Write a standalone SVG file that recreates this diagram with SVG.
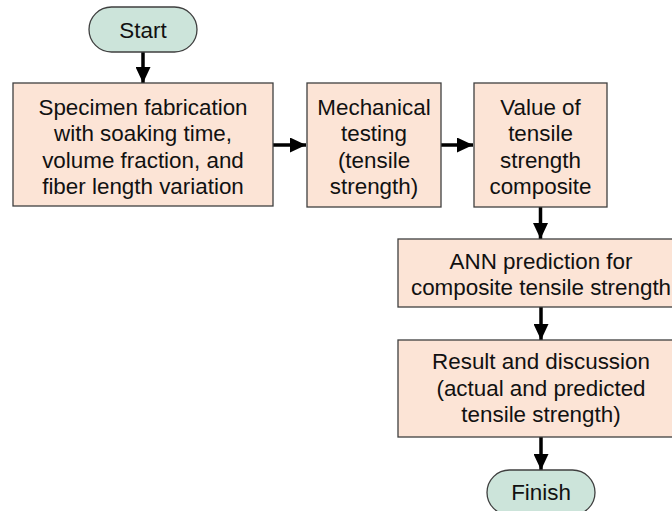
<svg xmlns="http://www.w3.org/2000/svg" width="672" height="511" viewBox="0 0 672 511">
<style>
.box{fill:#FCE4D6;stroke:#3f3f3f;stroke-width:1.3}
.term{fill:#CCE4DA;stroke:#3f3f3f;stroke-width:1.3}
.t{font-family:"Liberation Sans",Arial,sans-serif;font-size:22.4px;fill:#111;text-anchor:middle}
.c{stroke:#000;stroke-width:3.5;fill:none;marker-end:url(#ah)}
</style>
<defs>
<marker id="ah" markerUnits="userSpaceOnUse" markerWidth="16" markerHeight="15" refX="16" refY="7.5" orient="auto">
<path d="M0,0 L16,7.5 L0,15 z" fill="#000"/>
</marker>
</defs>
<rect width="672" height="511" fill="#fff"/>
<g id="connectors">
<line class="c" x1="143" y1="52" x2="143" y2="83"/>
<line class="c" x1="273" y1="145" x2="306" y2="145"/>
<line class="c" x1="441" y1="145" x2="473" y2="145"/>
<line class="c" x1="540.5" y1="207" x2="540.5" y2="239"/>
<line class="c" x1="541" y1="307" x2="541" y2="340"/>
<line class="c" x1="541" y1="437" x2="541" y2="470"/>
</g>
<g id="start">
<rect class="term" x="89" y="7" width="108" height="45" rx="22.5"/>
<text class="t" x="143" y="37.5">Start</text>
</g>
<g id="fabrication">
<rect class="box" x="13" y="83" width="260" height="123"/>
<text class="t" x="143" y="115">Specimen fabrication</text>
<text class="t" x="143" y="141.3">with soaking time,</text>
<text class="t" x="143" y="167.6">volume fraction, and</text>
<text class="t" x="143" y="194">fiber length variation</text>
</g>
<g id="testing">
<rect class="box" x="307" y="83" width="134" height="124"/>
<text class="t" x="374" y="115">Mechanical</text>
<text class="t" x="374" y="141.3">testing</text>
<text class="t" x="374" y="167.6">(tensile</text>
<text class="t" x="374" y="194">strength)</text>
</g>
<g id="value">
<rect class="box" x="474" y="83" width="133" height="124"/>
<text class="t" x="540.5" y="115">Value of</text>
<text class="t" x="540.5" y="141.3">tensile</text>
<text class="t" x="540.5" y="167.6">strength</text>
<text class="t" x="540.5" y="194">composite</text>
</g>
<g id="ann">
<rect class="box" x="398" y="239" width="286" height="68"/>
<text class="t" x="541" y="269">ANN prediction for</text>
<text class="t" x="541" y="295">composite tensile strength</text>
</g>
<g id="result">
<rect class="box" x="398" y="340" width="286" height="97"/>
<text class="t" x="541" y="369">Result and discussion</text>
<text class="t" x="541" y="395.5">(actual and predicted</text>
<text class="t" x="541" y="421.7">tensile strength)</text>
</g>
<g id="finish">
<rect class="term" x="487" y="470" width="108" height="45" rx="22.5"/>
<text class="t" x="541" y="500">Finish</text>
</g>
</svg>
